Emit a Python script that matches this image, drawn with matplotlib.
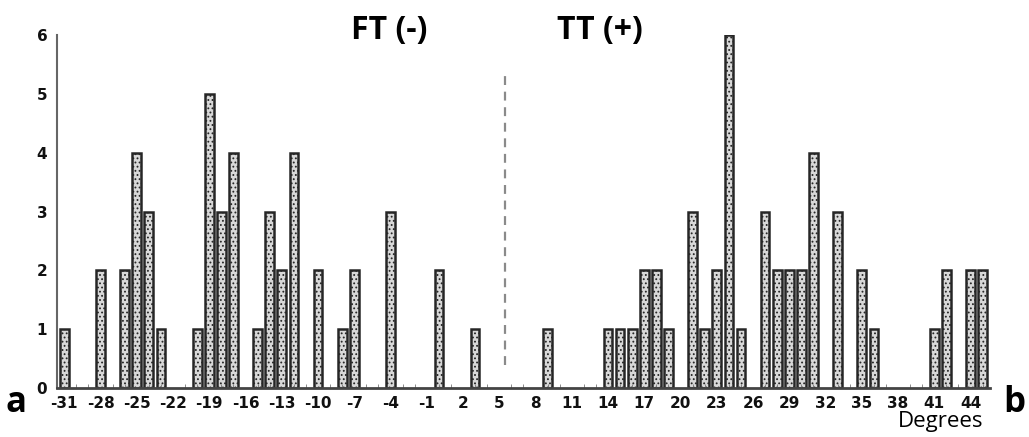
import matplotlib.pyplot as plt

# degree values and counts
degrees = [-31, -28, -26, -25, -24, -23, -20, -19, -18, -17, -15, -14, -13, -12,
           -10, -8, -7, -4, 0, 3, 9, 14, 15, 16, 17, 18, 19, 21, 22, 23, 24, 25,
           27, 28, 29, 30, 31, 33, 35, 36, 41, 42, 44, 45]
counts = [1, 2, 2, 4, 3, 1, 1, 5, 3, 4, 1, 3, 2, 4,
          2, 1, 2, 3, 2, 1, 1, 1, 1, 1, 2, 2, 1, 3, 1, 2, 6, 1,
          3, 2, 2, 2, 4, 3, 2, 1, 1, 2, 2, 2]
tick_labels = list(range(-31, 45, 3))
divider = 5.5

plt.rcParams["hatch.color"] = "#808080"
plt.rcParams["hatch.linewidth"] = 0.8

fig = plt.figure(figsize=(10.29, 4.37), dpi=100)
ax = fig.add_axes([0.0554, 0.112, 0.9066, 0.808])

ax.bar(degrees, counts, width=0.72, color="#d8d8d8", edgecolor="#262626",
       linewidth=1.8, hatch="....")

ax.plot([divider, divider], [0.4, 5.4], color="#8a8a8a", linestyle=(0, (4, 3)),
        linewidth=1.6)

ax.set_xlim(-31.6, 45.6)
ax.set_ylim(0, 6)
ax.set_xticks(tick_labels)
ax.set_xticklabels([str(t) for t in tick_labels], fontsize=11, fontweight="bold",
                   color="#111111")
ax.set_xticks(range(-31, 46), minor=True)
ax.set_yticks(range(0, 7))
ax.set_yticklabels([str(t) for t in range(0, 7)], fontsize=11, fontweight="bold",
                   color="#111111")
ax.tick_params(axis="x", which="major", length=0, pad=6)
ax.tick_params(axis="x", which="minor", direction="in", length=3, color="#777777")
ax.tick_params(axis="y", length=0, pad=7)

for side in ["top", "right"]:
    ax.spines[side].set_visible(False)
ax.spines["left"].set_color("#666666")
ax.spines["left"].set_linewidth(1.5)
ax.spines["bottom"].set_color("#444444")
ax.spines["bottom"].set_linewidth(2)

fig.text(389 / 1029, 1 - 30 / 437, "FT (-)", fontsize=23, fontweight="bold",
         family="Open Sans", ha="center", va="center")
fig.text(600 / 1029, 1 - 30 / 437, "TT (+)", fontsize=23, fontweight="bold",
         family="Open Sans", ha="center", va="center")
fig.text(16 / 1029, 1 - 403 / 437, "a", fontsize=25, fontweight="bold",
         family="Open Sans", ha="center", va="center")
fig.text(1014 / 1029, 1 - 403 / 437, "b", fontsize=25, fontweight="bold",
         family="Open Sans", ha="center", va="center")
fig.text(941 / 1029, 1 - 421 / 437, "Degrees", fontsize=16,
         family="Open Sans", ha="center", va="center")

fig.savefig("out.png", dpi=100)
